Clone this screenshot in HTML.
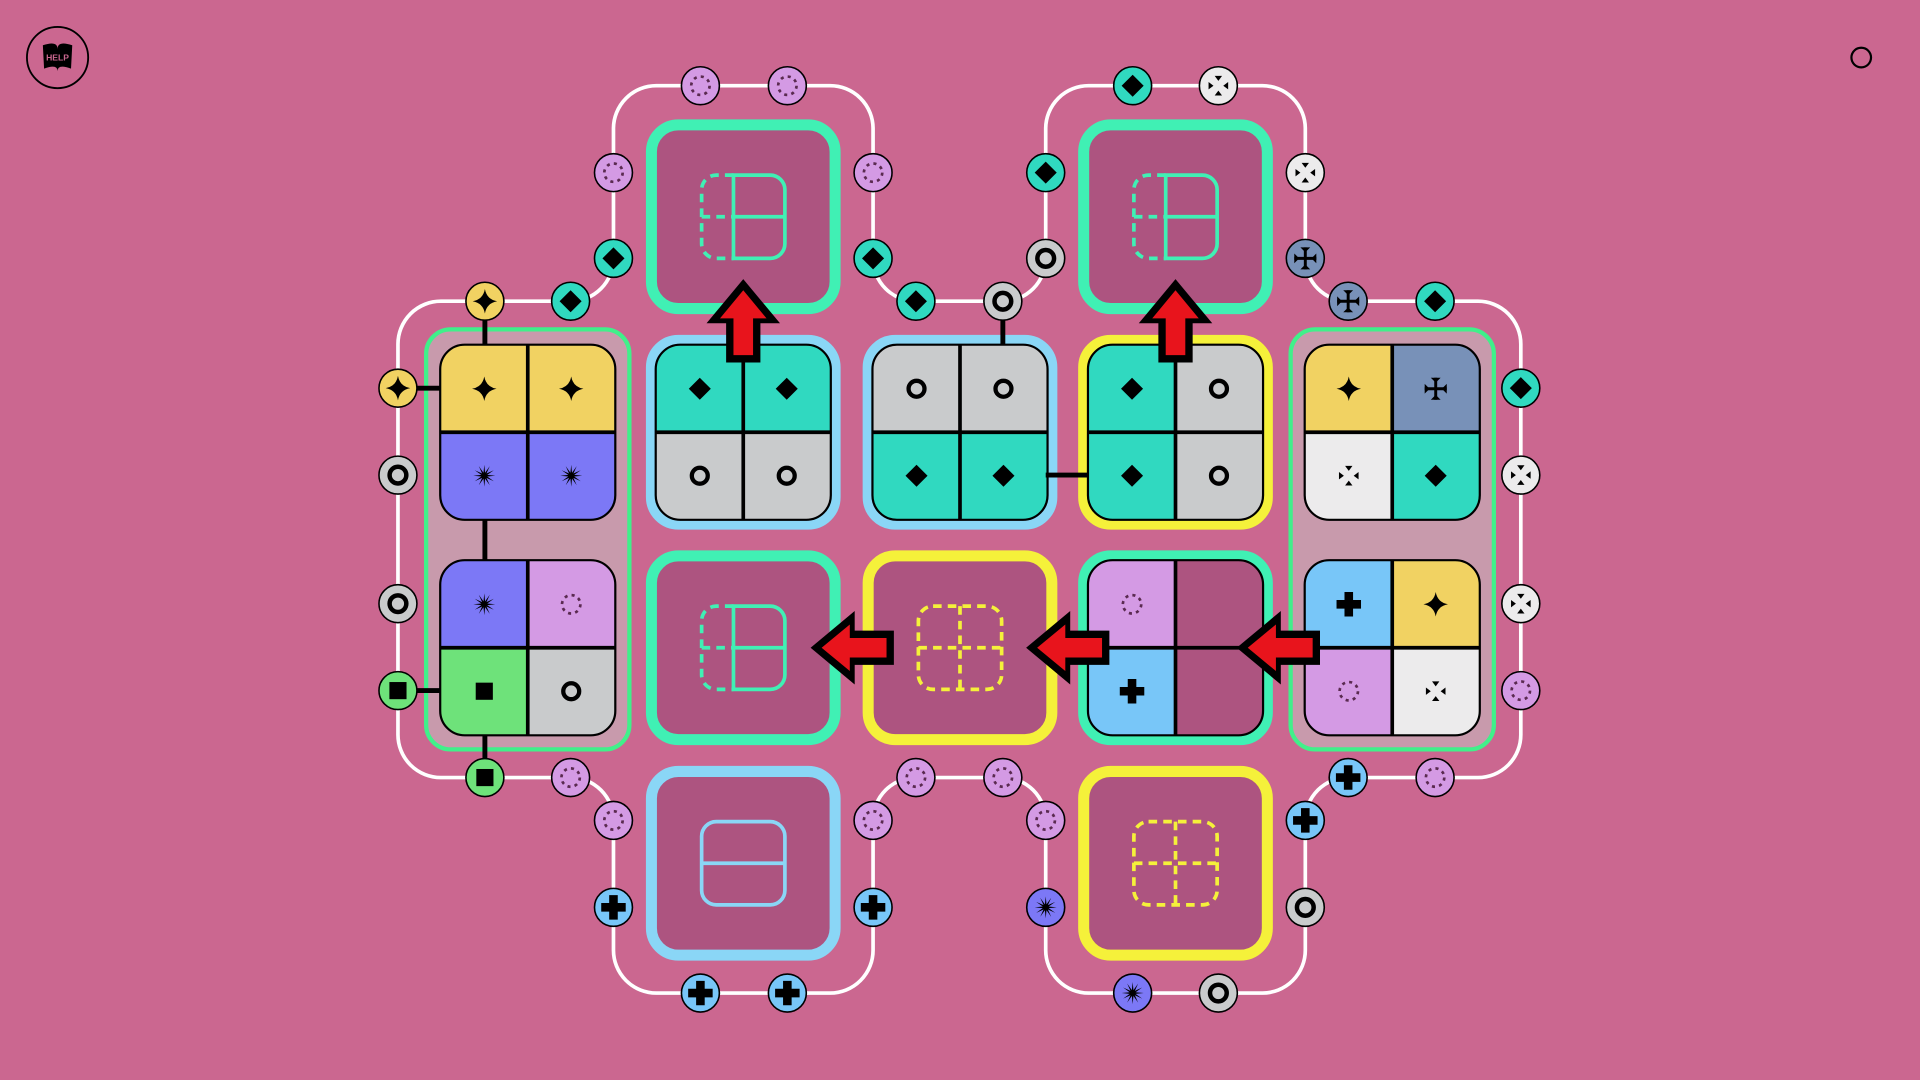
<!DOCTYPE html>
<html><head><meta charset="utf-8"><style>
html,body{margin:0;padding:0;background:#cb6790;width:1920px;height:1080px;overflow:hidden}
svg{display:block}
</style></head><body>
<svg id="s" width="1920" height="1080" viewBox="0 0 1568 882" xmlns="http://www.w3.org/2000/svg">
<rect width="1568" height="882" fill="#cb6790"/>
<g id="help">
<circle cx="47" cy="47" r="25" fill="none" stroke="#000" stroke-width="1.5"/>
<path d="M35 37 Q47 33 47 40 Q47 33 59 37 L58 56 Q47 52 47 58 Q47 52 36 56 Z" fill="#000"/>
<text x="47" y="49.5" font-family="Liberation Sans, sans-serif" font-size="7" font-weight="bold" fill="#cb6790" text-anchor="middle">HELP</text>
</g>
<circle cx="1520" cy="47" r="8" fill="none" stroke="#000" stroke-width="1.8"/>
</svg>
<script>
const S=document.getElementById('s');let h='';
const C={lav:'#d49ae4',teal:'#30d9c0',grey:'#c9cbcc',yel:'#f1d262',pur:'#7c78f6',grn:'#6ee27a',blue:'#78c6f8',wht:'#ecebec',slate:'#7891b8'};
function icon(t,x,y,k){k=k||1;let o='';const g=(s)=>`<g transform="translate(${x} ${y}) scale(${k})">${s}</g>`;
 if(t=='teal')o='<polygon points="0,-9 9,0 0,9 -9,0" fill="#000"/>';
 if(t=='grey')o='<circle r="6.5" fill="none" stroke="#000" stroke-width="3.5"/>';
 if(t=='yel')o='<path d="M0,-10 Q1.5,-1.5 10,0 Q1.5,1.5 0,10 Q-1.5,1.5 -10,0 Q-1.5,-1.5 0,-10Z" fill="#000"/>';
 if(t=='pur'){let p='';for(let i=0;i<24;i++){let a=i*Math.PI/12,r=i%2?2.5:9;p+=(r*Math.sin(a)).toFixed(2)+','+(-r*Math.cos(a)).toFixed(2)+' ';}o=`<polygon points="${p}" fill="#000"/>`;}
 if(t=='lav')o='<circle r="7.5" fill="none" stroke="#5a2a50" stroke-width="2.2" stroke-dasharray="2.5 3.4"/>';
 if(t=='grn')o='<rect x="-7" y="-7" width="14" height="14" fill="#000"/>';
 if(t=='blue')o='<path d="M-3.5,-10H3.5V-3.5H10V3.5H3.5V10H-3.5V3.5H-10V-3.5H-3.5Z" fill="#000"/>';
 if(t=='wht')o='<polygon points="-3,-8 3,-8 0,-4" /><polygon points="-3,8 3,8 0,4"/><polygon points="-8,-3 -8,3 -4,0"/><polygon points="8,-3 8,3 4,0"/>';
 if(t=='slate')o='<path d="M-1.2,-9H1.2V9H-1.2Z M-9,-1.2H9V1.2H-9Z"/><polygon points="-4,-9 4,-9 0,-5"/><polygon points="-4,9 4,9 0,5"/><polygon points="-9,-4 -9,4 -5,0"/><polygon points="9,-4 9,4 5,0"/>';
 return g(o);}
h+=`<path d="M360 246 H466 A35 35 0 0 0 501 211 V105 A35 35 0 0 1 536 70 H678 A35 35 0 0 1 713 105 V211 A35 35 0 0 0 748 246 H819 A35 35 0 0 0 854 211 V105 A35 35 0 0 1 889 70 H1031 A35 35 0 0 1 1066 105 V211 A35 35 0 0 0 1101 246 H1207 A35 35 0 0 1 1242 281 V600 A35 35 0 0 1 1207 635 H1101 A35 35 0 0 0 1066 670 V776 A35 35 0 0 1 1031 811 H889 A35 35 0 0 1 854 776 V670 A35 35 0 0 0 819 635 H748 A35 35 0 0 0 713 670 V776 A35 35 0 0 1 678 811 H536 A35 35 0 0 1 501 776 V670 A35 35 0 0 0 466 635 H360 A35 35 0 0 1 325 600 V281 A35 35 0 0 1 360 246 Z" fill="none" stroke="#fff" stroke-width="3"/>`;
[431,1137].forEach(x=>h+=`<rect x="${x-83}" y="269" width="166" height="343" rx="20" fill="#c89aac" stroke="#40f08a" stroke-width="3.5"/>`);
const BC={g:'#40f0b4',b:'#8ad6f6',y:'#f5f13a'};
function tile(cx,cy,b){h+=`<rect x="${cx-75}" y="${cy-75}" width="150" height="150" rx="22" fill="#ad5480" stroke="${BC[b]}" stroke-width="9"/>`;}
function quad(cx,cy,q){const x=cx-71.5,y=cy-71.5,w=143;h+=`<clipPath id="c${cx}_${cy}"><rect x="${x}" y="${y}" width="${w}" height="${w}" rx="20"/></clipPath><g clip-path="url(#c${cx}_${cy})">`;
 const pos=[[0,0],[1,0],[0,1],[1,1]];q.forEach((t,i)=>{h+=`<rect x="${x+pos[i][0]*w/2}" y="${y+pos[i][1]*w/2}" width="${w/2}" height="${w/2}" fill="${t?C[t]:'#ad5480'}"/>`;});h+='</g>';
 h+=`<line x1="${cx}" y1="${y}" x2="${cx}" y2="${y+w}" stroke="#000" stroke-width="3"/><line x1="${x}" y1="${cy}" x2="${x+w}" y2="${cy}" stroke="#000" stroke-width="3"/><rect x="${x}" y="${y}" width="${w}" height="${w}" rx="20" fill="none" stroke="#000" stroke-width="1.8"/>`;
 q.forEach((t,i)=>{if(t)h+=icon(t,cx+(pos[i][0]?35.5:-35.5),cy+(pos[i][1]?35.5:-35.5));});}
function bigIcon(cx,cy,kind,col){const a=`fill="none" stroke="${col}" stroke-width="3"`,d='stroke-dasharray="7 5"';let s='';
 if(kind=='half'){s=`<path d="M-8,-34H22A12,12 0 0 1 34,-22V22A12,12 0 0 1 22,34H-8Z M-8,0H34" ${a}/><path d="M-8,-34H-22A12,12 0 0 0 -34,-22V22A12,12 0 0 0 -22,34H-8 M-34,0H-8" ${a} ${d}/>`;}
 if(kind=='dash'){s=`<rect x="-34" y="-34" width="68" height="68" rx="12" ${a} ${d}/><path d="M0,-34V34M-34,0H34" ${a} ${d}/>`;}
 if(kind=='hsplit'){s=`<rect x="-34" y="-34" width="68" height="68" rx="12" ${a}/><path d="M-34,0H34" ${a}/>`;}
 h+=`<g transform="translate(${cx} ${cy})">${s}</g>`;}
tile(607,177,'g');bigIcon(607,177,'half','#40f0b4');
tile(960,177,'g');bigIcon(960,177,'half','#40f0b4');
tile(607,353,'b');quad(607,353,['teal','teal','grey','grey']);
tile(784,353,'b');quad(784,353,['grey','grey','teal','teal']);
tile(960,353,'y');quad(960,353,['teal','grey','teal','grey']);
tile(607,529,'g');bigIcon(607,529,'half','#40f0b4');
tile(784,529,'y');bigIcon(784,529,'dash','#f5f13a');
tile(960,529,'g');quad(960,529,['lav',null,'blue',null]);
tile(607,705,'b');bigIcon(607,705,'hsplit','#8ad6f6');
tile(960,705,'y');bigIcon(960,705,'dash','#f5f13a');
quad(431,353,['yel','yel','pur','pur']);quad(431,529,['pur','lav','grn','grey']);
quad(1137,353,['yel','slate','wht','teal']);quad(1137,529,['blue','yel','lav','wht']);
[[396,246,396,282],[325,317,360,317],[396,424,396,458],[325,564,360,564],[396,600,396,635],[819,246,819,282],[854,388,889,388]].forEach(l=>h+=`<line x1="${l[0]}" y1="${l[1]}" x2="${l[2]}" y2="${l[3]}" stroke="#000" stroke-width="4"/>`);
function arrow(x,y,dir){const p='M0,-36 L30,0 L14,0 L14,32 L-14,32 L-14,0 L-30,0Z';const r='M0,-27 L19,-4 L8,-4 L8,26 L-8,26 L-8,-4 L-19,-4Z';
 h+=`<g transform="translate(${x} ${y}) rotate(${dir})"><path d="${p}" fill="#000"/><path d="${r}" fill="#e8141c"/></g>`;}
arrow(607,264,0);arrow(960,264,0);arrow(698,529,-90);arrow(874,529,-90);arrow(1046,529,-90);
const L=[[572,70,'lav'],[643,70,'lav'],[501,141,'lav'],[713,141,'lav'],[501,211,'teal'],[713,211,'teal'],
[925,70,'teal'],[995,70,'wht'],[854,141,'teal'],[1066,141,'wht'],[854,211,'grey'],[1066,211,'slate'],
[396,246,'yel'],[466,246,'teal'],[748,246,'teal'],[819,246,'grey'],[1101,246,'slate'],[1172,246,'teal'],
[325,317,'yel'],[325,388,'grey'],[325,493,'grey'],[325,564,'grn'],
[1242,317,'teal'],[1242,388,'wht'],[1242,493,'wht'],[1242,564,'lav'],
[396,635,'grn'],[466,635,'lav'],[748,635,'lav'],[819,635,'lav'],[1101,635,'blue'],[1172,635,'lav'],
[501,670,'lav'],[713,670,'lav'],[854,670,'lav'],[1066,670,'blue'],
[501,741,'blue'],[713,741,'blue'],[854,741,'pur'],[1066,741,'grey'],
[572,811,'blue'],[643,811,'blue'],[925,811,'pur'],[995,811,'grey']];
L.forEach(c=>{h+=`<circle cx="${c[0]}" cy="${c[1]}" r="15.5" fill="${C[c[2]]}" stroke="#000" stroke-width="1.3"/>`+icon(c[2],c[0],c[1],c[2]=='grey'?1.05:1);});
S.insertAdjacentHTML('beforeend',h);
</script>
</body></html>
